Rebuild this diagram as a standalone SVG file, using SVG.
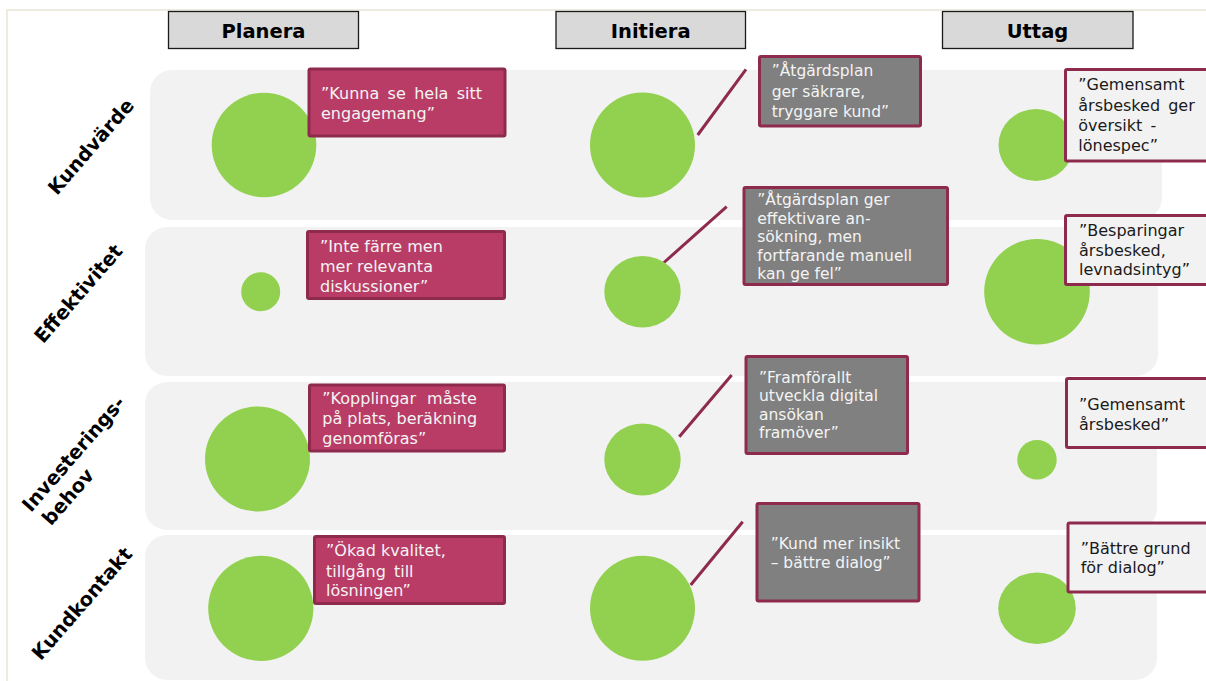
<svg xmlns="http://www.w3.org/2000/svg" width="1206" height="681" viewBox="0 0 1206 681">
  <style>
    .frame { fill: none; stroke: #eeece1; stroke-width: 2; }
    .band { fill: #f2f2f2; }
    .head rect { fill: #d9d9d9; stroke: #1a1a1a; stroke-width: 1.3; }
    .head text { font-family: "DejaVu Sans", Verdana, sans-serif; font-weight: bold; font-size: 19.5px; fill: #000; text-anchor: middle; }
    .rowlabel { font-family: "DejaVu Sans", Verdana, sans-serif; font-weight: bold; font-size: 19.5px; fill: #000; }
    .dot { fill: #92d050; }
    .box { stroke: #8e2a4e; stroke-width: 3; }
    .plan { fill: #b93c66; }
    .init { fill: #808080; }
    .uttag { fill: #f2f2f2; }
    .t { font-family: "DejaVu Sans", Verdana, sans-serif; }
    .tp { font-size: 16px; fill: #f4f4f4; }
    .ti { font-size: 15.5px; fill: #f4f4f4; }
    .tu { font-size: 16px; fill: #1a1a1a; }
    .link { stroke: #8e2a4e; stroke-width: 3; fill: none; }
  </style>

  <!-- page frame -->
  <path class="frame" d="M7,681 V10 H1206"/>

  <!-- row bands -->
  <g id="bands">
    <rect class="band" x="150" y="70" width="1012" height="150" rx="22"/>
    <rect class="band" x="145" y="227" width="1013" height="149" rx="22"/>
    <rect class="band" x="145" y="382" width="1012" height="148" rx="22"/>
    <rect class="band" x="145" y="535" width="1012" height="145" rx="22"/>
  </g>

  <!-- column headers -->
  <g id="head-planera" class="head">
    <rect x="168.5" y="11.5" width="190" height="37"/>
    <text x="263.5" y="37.5">Planera</text>
  </g>
  <g id="head-initiera" class="head">
    <rect x="556" y="11.5" width="189.5" height="37"/>
    <text x="650.7" y="37.5">Initiera</text>
  </g>
  <g id="head-uttag" class="head">
    <rect x="942.5" y="11.5" width="190.5" height="37"/>
    <text x="1037.5" y="37.5">Uttag</text>
  </g>

  <!-- row labels -->
  <g id="label-kundvarde">
    <text class="rowlabel" text-anchor="middle" transform="translate(96,151) rotate(-49)">Kundvärde</text>
  </g>
  <g id="label-effektivitet">
    <text class="rowlabel" text-anchor="middle" transform="translate(83.5,298) rotate(-49)">Effektivitet</text>
  </g>
  <g id="label-investeringsbehov">
    <text class="rowlabel" transform="translate(31,513) rotate(-49)">
      <tspan x="0" y="0">Investerings-</tspan>
      <tspan x="3" y="24">behov</tspan>
    </text>
  </g>
  <g id="label-kundkontakt">
    <text class="rowlabel" text-anchor="middle" transform="translate(87,608) rotate(-49)">Kundkontakt</text>
  </g>

  <!-- connectors from Initiera circles to their notes -->
  <g id="connectors">
    <line class="link" x1="697.7" y1="135" x2="746" y2="69.3"/>
    <line class="link" x1="662.3" y1="264" x2="726.7" y2="206.7"/>
    <line class="link" x1="679.3" y1="436.7" x2="731.7" y2="375"/>
    <line class="link" x1="690.7" y1="585" x2="742.7" y2="521.7"/>
  </g>

  <!-- circles -->
  <g id="dot-r1-planera"><circle class="dot" cx="264" cy="145" r="52.3"/></g>
  <g id="dot-r1-initiera"><circle class="dot" cx="642.5" cy="145" r="52.5"/></g>
  <g id="dot-r1-uttag"><ellipse class="dot" cx="1036" cy="145" rx="37.5" ry="36"/></g>
  <g id="dot-r2-planera"><circle class="dot" cx="260.7" cy="291.7" r="19.5"/></g>
  <g id="dot-r2-initiera"><ellipse class="dot" cx="642.5" cy="291.7" rx="38.2" ry="35.7"/></g>
  <g id="dot-r2-uttag"><circle class="dot" cx="1037" cy="291.8" r="52.8"/></g>
  <g id="dot-r3-planera"><circle class="dot" cx="257.5" cy="459" r="52.5"/></g>
  <g id="dot-r3-initiera"><ellipse class="dot" cx="642.5" cy="459.5" rx="38.2" ry="36"/></g>
  <g id="dot-r3-uttag"><circle class="dot" cx="1037" cy="459.7" r="19.7"/></g>
  <g id="dot-r4-planera"><circle class="dot" cx="260.8" cy="608.3" r="52.6"/></g>
  <g id="dot-r4-initiera"><circle class="dot" cx="642.5" cy="608.3" r="52.5"/></g>
  <g id="dot-r4-uttag"><ellipse class="dot" cx="1037" cy="608.3" rx="38.8" ry="35.7"/></g>

  <!-- Planera notes -->
  <g id="note-r1-planera">
    <rect class="box plan" x="309" y="69" width="196" height="67" rx="1.5"/>
    <text class="t tp">
      <tspan x="321" y="99" word-spacing="3.3">”Kunna se hela sitt</tspan>
      <tspan x="321" y="119">engagemang”</tspan>
    </text>
  </g>
  <g id="note-r2-planera">
    <rect class="box plan" x="307.5" y="231.5" width="197" height="67" rx="1.5"/>
    <text class="t tp">
      <tspan x="320" y="251.5">”Inte färre men</tspan>
      <tspan x="320" y="271.5">mer relevanta</tspan>
      <tspan x="320" y="291.5">diskussioner”</tspan>
    </text>
  </g>
  <g id="note-r3-planera">
    <rect class="box plan" x="309.5" y="385" width="195" height="66" rx="1.5"/>
    <text class="t tp">
      <tspan x="322.3" y="404" word-spacing="6">”Kopplingar måste</tspan>
      <tspan x="322.3" y="424.3">på plats, beräkning</tspan>
      <tspan x="322.3" y="444">genomföras”</tspan>
    </text>
  </g>
  <g id="note-r4-planera">
    <rect class="box plan" x="314.5" y="536.5" width="190" height="67" rx="1.5"/>
    <text class="t tp">
      <tspan x="326" y="556">”Ökad kvalitet,</tspan>
      <tspan x="326" y="576.5" word-spacing="3">tillgång till</tspan>
      <tspan x="326" y="596">lösningen”</tspan>
    </text>
  </g>

  <!-- Initiera notes -->
  <g id="note-r1-initiera">
    <rect class="box init" x="759.5" y="56.5" width="161" height="69.5" rx="1.5"/>
    <text class="t ti">
      <tspan x="771.7" y="76">”Åtgärdsplan</tspan>
      <tspan x="771.7" y="97">ger säkrare,</tspan>
      <tspan x="771.7" y="117">tryggare kund”</tspan>
    </text>
  </g>
  <g id="note-r2-initiera">
    <rect class="box init" x="744" y="187.5" width="203.5" height="97" rx="1.5"/>
    <text class="t ti">
      <tspan x="757.3" y="205">”Åtgärdsplan ger</tspan>
      <tspan x="757.3" y="223.5">effektivare an-</tspan>
      <tspan x="757.3" y="242">sökning, men</tspan>
      <tspan x="757.3" y="260.5">fortfarande manuell</tspan>
      <tspan x="757.3" y="279">kan ge fel”</tspan>
    </text>
  </g>
  <g id="note-r3-initiera">
    <rect class="box init" x="746" y="356.5" width="161.5" height="97" rx="1.5"/>
    <text class="t ti">
      <tspan x="759" y="382.5">”Framförallt</tspan>
      <tspan x="759" y="401">utveckla digital</tspan>
      <tspan x="759" y="419.5">ansökan</tspan>
      <tspan x="759" y="438">framöver”</tspan>
    </text>
  </g>
  <g id="note-r4-initiera">
    <rect class="box init" x="757" y="503.5" width="162" height="97.5" rx="1.5"/>
    <text class="t ti">
      <tspan x="770.7" y="549.3">”Kund mer insikt</tspan>
      <tspan x="770.7" y="568.3">– bättre dialog”</tspan>
    </text>
  </g>

  <!-- Uttag notes -->
  <g id="note-r1-uttag">
    <rect class="box uttag" x="1065.5" y="69.5" width="150" height="91.5" rx="1.5"/>
    <text class="t tu">
      <tspan x="1078.3" y="90">”Gemensamt</tspan>
      <tspan x="1078.3" y="111" word-spacing="3">årsbesked ger</tspan>
      <tspan x="1078.3" y="131" word-spacing="3">översikt -</tspan>
      <tspan x="1078.3" y="150.7">lönespec”</tspan>
    </text>
  </g>
  <g id="note-r2-uttag">
    <rect class="box uttag" x="1065.5" y="215.5" width="150" height="69" rx="1.5"/>
    <text class="t tu">
      <tspan x="1079" y="236">”Besparingar</tspan>
      <tspan x="1079" y="255.5">årsbesked,</tspan>
      <tspan x="1079" y="275">levnadsintyg”</tspan>
    </text>
  </g>
  <g id="note-r3-uttag">
    <rect class="box uttag" x="1066.5" y="378.5" width="150" height="69" rx="1.5"/>
    <text class="t tu">
      <tspan x="1079" y="410">”Gemensamt</tspan>
      <tspan x="1079" y="430">årsbesked”</tspan>
    </text>
  </g>
  <g id="note-r4-uttag">
    <rect class="box uttag" x="1068" y="523" width="150" height="69" rx="1.5"/>
    <text class="t tu">
      <tspan x="1080.7" y="554">”Bättre grund</tspan>
      <tspan x="1080.7" y="573.3">för dialog”</tspan>
    </text>
  </g>
</svg>
